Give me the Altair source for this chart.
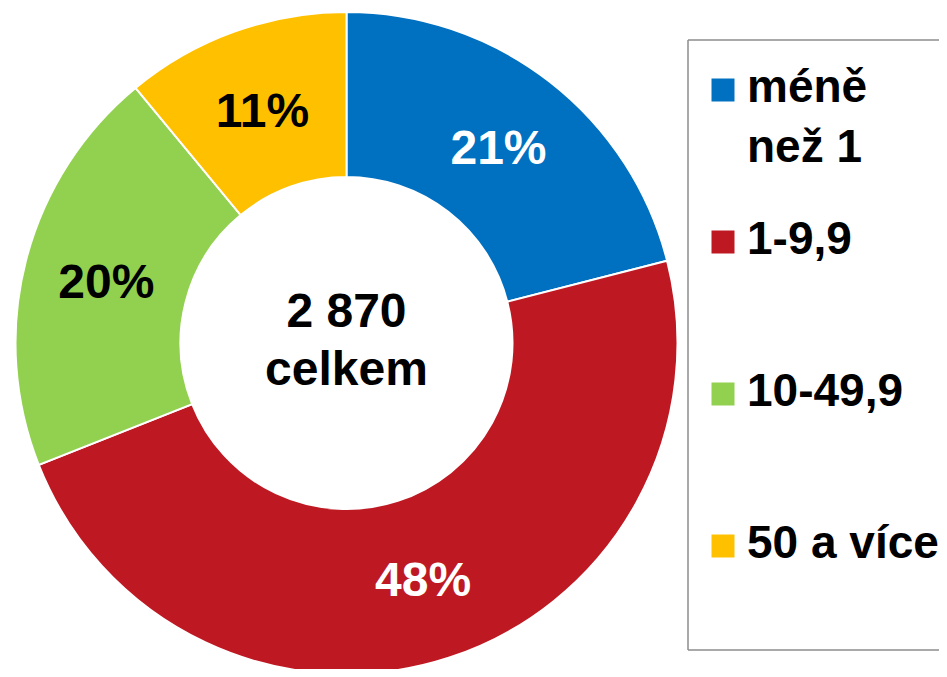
import altair as alt
import pandas as pd

categories = ["méně než 1", "1-9,9", "10-49,9", "50 a více"]
legend_labels = ["méně\nnež 1", "1-9,9", "10-49,9", "50 a více"]
shares = [21, 48, 20, 11]
pct_labels = ["21%", "48%", "20%", "11%"]
center_text = "2 870\ncelkem"

colors = ["#0070C0", "#BE1922", "#92D050", "#FFC000"]
label_colors = ["#FFFFFF", "#FFFFFF", "#000000", "#000000"]

FONT = "Liberation Sans"
CX, CY = 338.5, 335

df = pd.DataFrame({
    "cat": categories,
    "value": shares,
    "idx": list(range(len(categories))),
    "pct": pct_labels,
    "leg": legend_labels,
})

base = alt.Chart(df)

arcs = base.mark_arc(
    radius=331, radius2=166, x=CX, y=CY, stroke="white", strokeWidth=2
).encode(
    theta=alt.Theta("value:Q", stack=True),
    order=alt.Order("idx:Q"),
    color=alt.Color("cat:N", scale=alt.Scale(domain=categories, range=colors), legend=None),
)

pct = base.mark_text(
    radius=248, x=CX, y=CY, dy=3, font=FONT, fontSize=48, fontWeight="bold",
    baseline="middle", align="center"
).encode(
    theta=alt.Theta("value:Q", stack=True),
    order=alt.Order("idx:Q"),
    text="pct:N",
    color=alt.Color("cat:N", scale=alt.Scale(domain=categories, range=label_colors), legend=None),
)

center = alt.Chart(pd.DataFrame({"t": [center_text]})).mark_text(
    x=CX, y=319, font=FONT, fontSize=48, fontWeight="bold", align="center",
    baseline="alphabetic", lineBreak="\n", lineHeight=58, color="black"
).encode(text="t:N")

frame = pd.DataFrame({"b": [0]})
BOX_L, BOX_T, BOX_B, BOX_R = 680, 32, 642, 1300
frame_style = dict(stroke="#8c8c8c", strokeWidth=1.5)
box_top = alt.Chart(frame).mark_rule(**frame_style).encode(
    x=alt.value(BOX_L), x2=alt.value(BOX_R), y=alt.value(BOX_T))
box_bot = alt.Chart(frame).mark_rule(**frame_style).encode(
    x=alt.value(BOX_L), x2=alt.value(BOX_R), y=alt.value(BOX_B))
box_left = alt.Chart(frame).mark_rule(**frame_style).encode(
    x=alt.value(BOX_L), y=alt.value(BOX_T), y2=alt.value(BOX_B))

yscale = alt.Scale(domain=categories, range=[82, 538], type="point", padding=0)

leg_sym = base.mark_square(size=529, opacity=1, x=715).encode(
    y=alt.Y("cat:N", scale=yscale, axis=None),
    color=alt.Color("cat:N", scale=alt.Scale(domain=categories, range=colors), legend=None),
)

leg_txt = base.mark_text(
    x=739, font=FONT, fontSize=46, fontWeight="bold", align="left",
    baseline="alphabetic", dy=11.5, lineBreak="\n", lineHeight=60, color="black"
).encode(
    y=alt.Y("cat:N", scale=yscale, axis=None),
    text="leg:N",
)

chart = alt.layer(arcs, pct, center, box_top, box_bot, box_left, leg_sym, leg_txt).resolve_scale(
    color="independent"
).properties(
    width=931, height=661, padding=0, autosize=alt.AutoSizeParams(type="none")
).configure_view(stroke=None)

chart.save("out.html", embed_options={"renderer": "svg", "actions": False})
